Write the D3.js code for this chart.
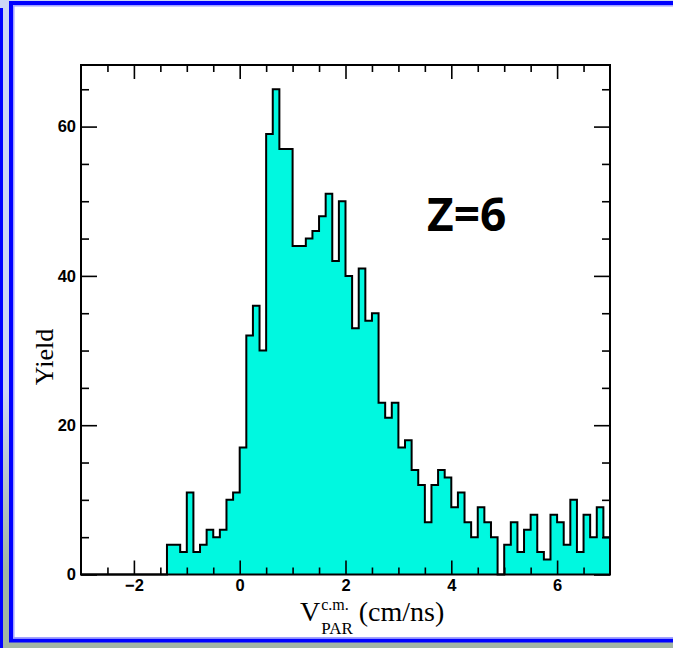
<!DOCTYPE html>
<html>
<head>
<meta charset="utf-8">
<style>
  html, body { margin: 0; padding: 0; background: #fff; }
  svg { display: block; }
  .tick line { stroke: #000; stroke-width: 1.6; }
</style>
</head>
<body>
<svg width="673" height="648"></svg>
<script src="https://d3js.org/d3.v7.min.js"></script>
<script>
    // histogram of V_PAR (c.m.), Z=6 -- bins of 0.125 cm/ns starting at -1.375
    var binStart = -1.375;
    var binWidth = 0.125;
    var counts = [4, 4, 3, 11, 3, 4, 6, 5, 6, 10,
        11, 17, 32, 36, 30, 59, 65, 57, 57, 44,
        44, 45, 46, 48, 51, 42, 50, 40, 33, 41,
        34, 35, 23, 21, 23, 17, 18, 14, 12, 7,
        12, 14, 13, 9, 11, 7, 5, 9, 7, 5,
        0, 4, 7, 3, 6, 8, 3, 2, 8, 7,
        4, 10, 3, 8, 5, 9, 5];

    var xDomain = [-3, 7];
    var yDomain = [0, 68.25];
    var xMajorTicks = [-2, 0, 2, 4, 6];
    var xMinorTicks = [-2.5, -1.5, -1, -0.5, 0.5, 1, 1.5, 2.5, 3, 3.5, 4.5, 5, 5.5, 6.5];
    var yMajorTicks = [0, 20, 40, 60];
    var yMinorTicks = [5, 10, 15, 25, 30, 35, 45, 50, 55, 65];

    var svg = d3.select("svg");

    // slide background + blue frame
    var defs = svg.append("defs");
    var grad = defs.append("linearGradient").attr("id", "bg").attr("x1", 0).attr("y1", 0).attr("x2", 0).attr("y2", 1);
    grad.append("stop").attr("offset", "0.6").attr("stop-color", "#cdd5f5");
    grad.append("stop").attr("offset", "0.88").attr("stop-color", "#a2b5a4");
    svg.append("rect").attr("width", 673).attr("height", 648).attr("fill", "url(#bg)");
    svg.append("rect").attr("x", 0).attr("y", 8).attr("width", 3).attr("height", 640).attr("fill", "#0000ff");
    svg.append("rect").attr("x", 11).attr("y", 3).attr("width", 700).attr("height", 637.5)
        .attr("fill", "#fff").attr("stroke", "#0000ff").attr("stroke-width", 4);
    svg.append("rect").attr("x", 13.8).attr("y", 5.8).attr("width", 700).attr("height", 632)
        .attr("fill", "none").attr("stroke", "#9a9aff").attr("stroke-width", 1.4);

    var margin = { left: 81, right: 610, top: 65, bottom: 574.5 };

    var x = d3.scaleLinear().domain(xDomain).range([margin.left, margin.right]);
    var y = d3.scaleLinear().domain(yDomain).range([margin.bottom, margin.top]);

    var bins = counts.map(function (c, i) {
        return { x: binStart + i * binWidth, c: c };
    });
    var steps = [{ x: xDomain[0], c: 0 }].concat(bins).concat([{ x: xDomain[1], c: counts[counts.length - 1] }]);

    var area = d3.area()
        .curve(d3.curveStepAfter)
        .x(function (d) { return x(d.x); })
        .y0(y(0))
        .y1(function (d) { return y(d.c); });

    var line = d3.line()
        .curve(d3.curveStepAfter)
        .x(function (d) { return x(d.x); })
        .y(function (d) { return y(d.c); });

    svg.append("path")
        .datum(steps)
        .attr("fill", "#00f8e0")
        .attr("d", area);

    svg.append("path")
        .datum(steps)
        .attr("fill", "none")
        .attr("stroke", "#000")
        .attr("stroke-width", 2)
        .attr("stroke-linejoin", "miter")
        .attr("d", line);

    // axes, ROOT style ticks pointing inward
    function addAxis(axis, tx, ty) {
        var g = svg.append("g").attr("transform", "translate(" + tx + "," + ty + ")").call(axis);
        g.select(".domain").remove();
        g.attr("font-size", null).attr("font-family", null);
        g.selectAll(".tick text")
            .style("font-family", "'Liberation Sans', Arial, sans-serif")
            .style("font-weight", "bold")
            .style("font-size", "16.5px")
            .attr("fill", "#000");
        return g;
    }
    addAxis(d3.axisBottom(x).tickValues(xMajorTicks).tickSize(-14).tickPadding(5).tickFormat(d3.format("d")), 0, margin.bottom);
    addAxis(d3.axisBottom(x).tickValues(xMinorTicks).tickSize(-7).tickFormat(""), 0, margin.bottom);
    addAxis(d3.axisTop(x).tickValues(xMajorTicks).tickSize(-14).tickFormat(""), 0, margin.top);
    addAxis(d3.axisTop(x).tickValues(xMinorTicks).tickSize(-7).tickFormat(""), 0, margin.top);
    addAxis(d3.axisLeft(y).tickValues(yMajorTicks).tickSize(-16).tickPadding(5).tickFormat(d3.format("d")), margin.left, 0);
    addAxis(d3.axisLeft(y).tickValues(yMinorTicks).tickSize(-8).tickFormat(""), margin.left, 0);
    addAxis(d3.axisRight(y).tickValues(yMajorTicks).tickSize(-16).tickFormat(""), margin.right, 0);
    addAxis(d3.axisRight(y).tickValues(yMinorTicks).tickSize(-8).tickFormat(""), margin.right, 0);

    svg.append("rect")
        .attr("x", margin.left).attr("y", margin.top)
        .attr("width", margin.right - margin.left).attr("height", margin.bottom - margin.top)
        .attr("fill", "none").attr("stroke", "#000").attr("stroke-width", 2);

    // axis titles
    var serif = "'Liberation Serif', 'Times New Roman', serif";
    svg.append("text")
        .attr("transform", "translate(53,357) rotate(-90)")
        .attr("text-anchor", "middle")
        .style("font-family", serif)
        .style("font-size", "26px")
        .text("Yield");

    var xt = svg.append("g").attr("transform", "translate(300,621)");
    var vText = xt.append("text").style("font-family", serif).style("font-size", "28px").text("V");
    var vw = vText.node().getComputedTextLength();
    var sup = xt.append("text").attr("x", vw + 1).attr("y", -11)
        .style("font-family", serif).style("font-size", "16px").text("c.m.");
    var sub = xt.append("text").attr("x", vw + 1).attr("y", 13)
        .style("font-family", serif).style("font-size", "17px").text("PAR");
    var sw = Math.max(sup.node().getComputedTextLength(), sub.node().getComputedTextLength());
    xt.append("text").attr("x", vw + sw + 7)
        .style("font-family", serif).style("font-size", "28px").text("(cm/ns)");

    svg.append("text")
        .attr("x", 427).attr("y", 231)
        .style("font-family", "'Open Sans', sans-serif")
        .style("font-weight", "bold")
        .style("font-size", "46px")
        .text("Z=6");
</script>
</body>
</html>
